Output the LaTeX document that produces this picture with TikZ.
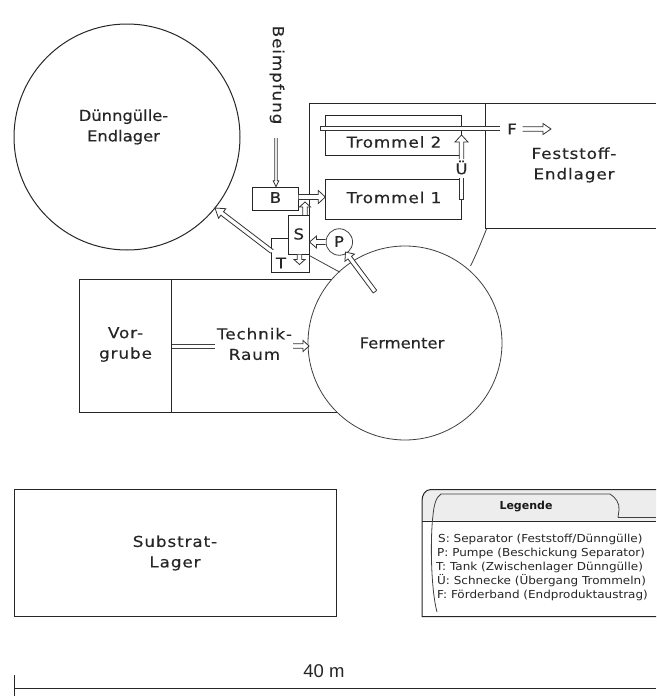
\documentclass[tikz,border=0pt]{standalone}
\usepackage{fontspec}
\usetikzlibrary{calc,arrows.meta}
\setmainfont{DejaVu Sans}
\newfontfamily\arialfont{Liberation Sans}
\newfontfamily\widefont[FakeStretch=1.09,FakeBold=0.3]{DejaVu Sans}
\newfontfamily\spacedfont[FakeStretch=1.12,LetterSpace=6,FakeBold=0.3]{DejaVu Sans}
\newfontfamily\legfont[FakeStretch=1.09]{DejaVu Sans}
\tikzset{
  x=1pt,y=-1pt,
  wall/.style={draw=black!85,line width=1pt},
  thin wall/.style={draw=black!75,line width=0.8pt},
  lbl/.style={inner sep=0pt,font=\spacedfont\fontsize{15}{20.5}\selectfont,align=center,text=black!85},
  widelbl/.style={inner sep=0pt,font=\widefont\fontsize{15}{20.5}\selectfont,align=center,text=black!85},
  smlbl/.style={inner sep=0pt,font=\widefont\fontsize{15}{15}\selectfont,text=black!85},
  legtext/.style={inner sep=0pt,font=\legfont\fontsize{11}{12}\selectfont,anchor=west,text=black!85},
  hollow/.style={draw=black!80,line width=0.8pt,fill=white},
}
\newcommand{\hollowarrow}[5]{% start, tip, half shaft, head half, head length
  \path let \p1=(#1),\p2=(#2),\n1={atan2(\y2-\y1,\x2-\x1)},\n2={veclen(\x2-\x1,\y2-\y1)} in
    \pgfextra{\xdef\haang{\n1}\xdef\halen{\n2}\xdef\hax{\x1}\xdef\hay{\y1}};
  \draw[hollow,shift={(\hax,\hay)},rotate=\haang,x=1pt,y=1pt]
    (0,#3) -- ({\halen-#5},#3) -- ({\halen-#5},#4) -- (\halen,0) -- ({\halen-#5},-#4) -- ({\halen-#5},-#3) -- (0,-#3);
}
\begin{document}
\begin{tikzpicture}
\useasboundingbox (0,0) rectangle (656,696);
\fill[white] (0,0) rectangle (656,696);

% Building outline
\draw[wall] (309,215) -- (309,103) -- (656,103);
\draw[wall] (485,103) -- (485,228) -- (656,228);
\draw[thin wall] (486.5,229) .. controls (481,243) and (476,255) .. (470.5,266);

% Circles
\node[circle,wall,fill=white,minimum size=226pt,inner sep=0pt] (duenn) at (127,137) {};
% Technikraum / Vorgrube
\draw[wall] (336,279.5) -- (79.5,279.5) -- (79.5,412.5) -- (337,412.5);
\draw[wall] (171.5,279.5) -- (171.5,412.5);

\node[circle,thin wall,fill=white,minimum size=194pt,inner sep=0pt] (ferm) at (405,343) {};
\node[widelbl] at (402,343) {Fermenter};

\node[widelbl] at (123.5,127) {Dünngülle-\\Endlager};

% Trommeln
\node[wall,draw,minimum width=136.5pt,minimum height=40pt,inner sep=0pt] (t2) at (393.5,135.3) {};
\node[lbl] at (394,142) {Trommel 2};
\node[wall,draw,minimum width=136.5pt,minimum height=40pt,inner sep=0pt] (t1) at (393.5,199) {};
\node[lbl] at (394,197.5) {Trommel 1};

% Conveyor
\draw[hollow] (500,126.7) -- (320,126.7) -- (320,130.7) -- (500,130.7);
\node[smlbl] (f) at (512,129) {F};
\coordinate (fa) at (522.5,129);
\coordinate (fb) at (551,129);
\hollowarrow{fa}{fb}{2.2}{5.5}{8}

% Screw
\draw[hollow] (459.5,178) -- (459.5,199) -- (463.5,199) -- (463.5,178);
\node[smlbl] at (461.5,167.5) {Ü};
\coordinate (sc) at (461.5,159);
\coordinate (sd) at (461.5,135);
\hollowarrow{sc}{sd}{2.2}{6.5}{7}

% Label Feststoff
\node[lbl] at (574,165) {Feststoff-\\Endlager};

% Beimpfung
\node[lbl,rotate=-90] at (277,75) {Beimpfung};
\node[wall,draw,fill=white,minimum width=46.5pt,minimum height=23.5pt,inner sep=0pt] (b) at (275.5,199) {};
\node[smlbl] at (275.5,197.5) {B};
\coordinate (beim) at (276,138);
\coordinate (beimend) at (beim |- b.north);
\hollowarrow{beim}{beimend}{1.3}{2.8}{6}

% B -> Trommel 1
\coordinate (ba) at (298.7,197);
\coordinate (bb) at (325.3,197);
\hollowarrow{ba}{bb}{2.5}{6.5}{7}

% T
\node[wall,draw,fill=white,minimum width=37.5pt,minimum height=33.5pt,inner sep=0pt] (tank) at (290.7,255.7) {};
\node[smlbl] at (281,263) {T};
\draw[thin wall] (309.3,255.5) -- (339.5,272);

% S
\coordinate (sua) at (305,216);
\coordinate (sub) at (305,202);
\hollowarrow{sua}{sub}{2.2}{5.5}{5}
\node[wall,draw,fill=white,minimum width=20.5pt,minimum height=38.5pt,inner sep=0pt] (sep) at (298.8,235) {};
\node[smlbl] at (298.8,234) {S};
\coordinate (sda) at (299.5,254.5);
\coordinate (sdb) at (299.5,264.5);
\hollowarrow{sda}{sdb}{2.2}{5.5}{5}

% P
\node[circle,thin wall,fill=white,minimum size=26.5pt,inner sep=0pt] (p) at (339.3,242) {};
\node[smlbl] at (339,241.5) {P};
\hollowarrow{p.west}{sep.east |- p.west}{2.5}{6}{7}

% Fermenter -> P
\coordinate (fpa) at (375,291.7);
\coordinate (fpb) at (345.5,252);
\hollowarrow{fpa}{fpb}{2.2}{6}{7}
\draw[hollow] (373.2,293) -- (376.8,290.4);

% T -> Duennguelle
\coordinate (tda) at (272,251.5);
\coordinate (tdb) at (215,208);
\hollowarrow{tda}{tdb}{2.2}{6}{9}

% Vorgrube, Technikraum
\node[lbl] at (125.5,344.5) {Vor-\\grube};
\draw[thin wall] (171.5,344) -- (215,344);
\draw[thin wall] (171.5,348) -- (215,348);
\node[lbl] at (254.5,344) {Technik-\\Raum};
\coordinate (ta) at (293,346);
\coordinate (tb) at (309,346);
\hollowarrow{ta}{tb}{2.2}{5.5}{6}

% Substrat
\node[wall,draw,minimum width=322pt,minimum height=127pt,inner sep=0pt] (subst) at (175,553) {};
\node[lbl] at (175,553) {Substrat-\\Lager};

% Legend
\fill[black!7] (656,490) -- (431,490) .. controls (425,490) and (422,495) .. (422,501) -- (422,520.5) -- (656,520.5) -- cycle;
\draw[wall] (656,489.5) -- (431,489.5) .. controls (425,489.5) and (422,495) .. (422,501) -- (422,616.5) -- (656,616.5);
\draw[wall] (422,521) -- (656,521);
\draw[thin wall] (618,517.5) -- (656,517.5);
\draw[thin wall] (437,612) .. controls (431,590) and (430,540) .. (433,515) .. controls (434,505) and (436,497) .. (441,494) -- (610,494) .. controls (615,497) and (620,503) .. (619,510) -- (618,517.5);
\node[inner sep=0pt,font=\fontsize{11}{12}\selectfont\bfseries,text=black!90] at (526,507) {Legende};
\node[legtext] at (438,539) {S: Separator (Feststoff/Dünngülle)};
\node[legtext] at (437,553) {P: Pumpe (Beschickung Separator)};
\node[legtext] at (436,567) {T: Tank (Zwischenlager Dünngülle)};
\node[legtext] at (437,581) {Ü: Schnecke (Übergang Trommeln)};
\node[legtext] at (437,595) {F: Förderband (Endproduktaustrag)};

% Scale
\node[inner sep=0pt,font=\arialfont\fontsize{18.5}{20}\selectfont,text=black!85] at (324,671) {40 m};
\coordinate (sl) at (14,688);
\coordinate (sr) at (656,688);
\draw[wall] (sl) -- (sr);
\draw[wall] (14,675) -- (14,696);
\end{tikzpicture}
\end{document}
